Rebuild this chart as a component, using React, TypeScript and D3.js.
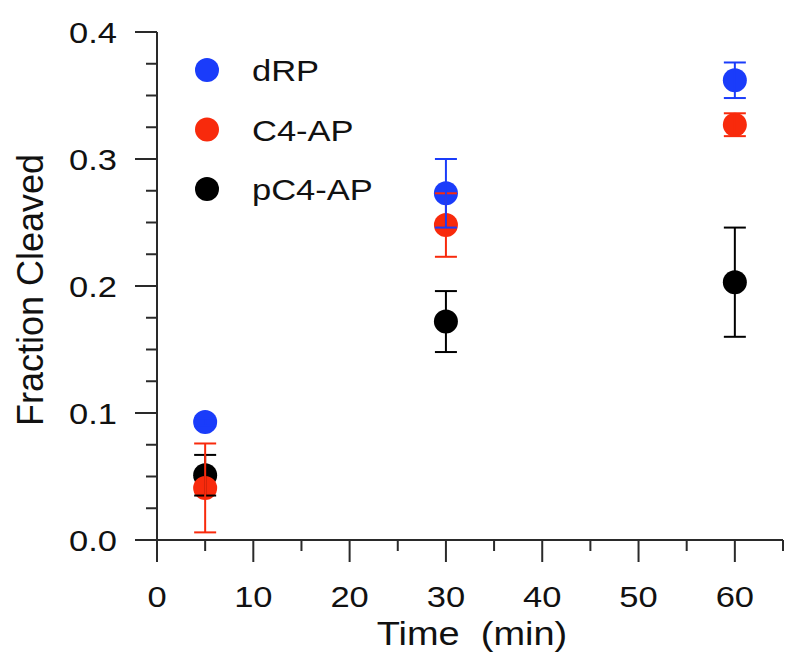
import React from 'react';
import * as d3 from 'd3';

// values
const times = [5, 30, 60];
const seriesNames = ['dRP', 'C4-AP', 'pC4-AP'];
const seriesColors = ['#1a3cfa', '#f82a0c', '#000000'];
const dRP = [0.093, 0.273, 0.362];
const dRPErr = [0.003, 0.027, 0.014];
const c4AP = [0.041, 0.248, 0.327];
const c4APErr = [0.035, 0.025, 0.009];
const pC4AP = [0.051, 0.172, 0.203];
const pC4APErr = [0.016, 0.024, 0.043];

const xMajor = [0, 10, 20, 30, 40, 50, 60];
const xMinor = [5, 15, 25, 35, 45, 55, 65];
const yMajor = [0, 0.1, 0.2, 0.3, 0.4];
const yMinor = [0.025, 0.05, 0.075, 0.125, 0.15, 0.175, 0.225, 0.25, 0.275, 0.325, 0.35, 0.375];

const W = 800;
const H = 668;
const font = '"Liberation Sans", Arial, sans-serif';
const axisColor = '#2a2a2a';
const stretch = 1.15;

const x = d3.scaleLinear().domain([0, 65]).range([157, 783]);
const y = d3.scaleLinear().domain([0, 0.4]).range([540, 32]);

const series = [
  { name: seriesNames[0], color: seriesColors[0], values: dRP, errs: dRPErr },
  { name: seriesNames[1], color: seriesColors[1], values: c4AP, errs: c4APErr },
  { name: seriesNames[2], color: seriesColors[2], values: pC4AP, errs: pC4APErr },
];

const Txt: React.FC<{ x: number; y: number; size: number; anchor?: string; children: React.ReactNode }> = ({ x, y, size, anchor = 'start', children }) => (
  <text
    transform={`translate(${x},${y}) scale(${stretch},1)`}
    fontSize={size}
    fontFamily={font}
    textAnchor={anchor}
    fill="#111"
  >
    {children}
  </text>
);

export default function App() {
  const r = 12;
  const cap = 11;
  return (
    <svg width={W} height={H} style={{ position: 'absolute', left: 0, top: 0, background: '#fff' }}>
      {/* axes */}
      <g stroke={axisColor} strokeWidth={2} fill="none">
        <line x1={x(0)} x2={x(0)} y1={y(0.4)} y2={y(0) + 22} />
        <line x1={x(0) - 22} x2={x(65)} y1={y(0)} y2={y(0)} />
        {yMajor.map(v => (
          <line key={'ym' + v} x1={x(0) - 22} x2={x(0)} y1={y(v)} y2={y(v)} />
        ))}
        {yMinor.map(v => (
          <line key={'yn' + v} x1={x(0) - 11} x2={x(0)} y1={y(v)} y2={y(v)} />
        ))}
        {xMajor.map(v => (
          <line key={'xm' + v} x1={x(v)} x2={x(v)} y1={y(0)} y2={y(0) + 22} />
        ))}
        {xMinor.map(v => (
          <line key={'xn' + v} x1={x(v)} x2={x(v)} y1={y(0)} y2={y(0) + 11} />
        ))}
      </g>
      {yMajor.map(v => (
        <Txt key={'yl' + v} x={117} y={y(v) + 11} size={30} anchor="end">
          {d3.format('.1f')(v)}
        </Txt>
      ))}
      {xMajor.map(v => (
        <Txt key={'xl' + v} x={x(v)} y={607} size={30} anchor="middle">
          {v}
        </Txt>
      ))}
      <Txt x={472} y={645} size={33} anchor="middle">
        {'Time\u00a0\u00a0(min)'}
      </Txt>
      <text
        transform={`translate(43,290) rotate(-90)`}
        fontSize={36}
        fontFamily={font}
        textAnchor="middle"
        fill="#111"
      >
        Fraction Cleaved
      </text>

      {/* markers, drawn back to front */}
      {[...series].reverse().map(s => (
        <g key={'c' + s.name} fill={s.color}>
          {times.map((t, i) => (
            <circle key={t} cx={x(t)} cy={y(s.values[i])} r={r} />
          ))}
        </g>
      ))}
      {/* error bars on top */}
      {[...series].reverse().map(s => (
        <g key={'e' + s.name} stroke={s.color} strokeWidth={2}>
          {times.map((t, i) => {
            const cx = x(t);
            const hi = y(s.values[i] + s.errs[i]);
            const lo = y(s.values[i] - s.errs[i]);
            return (
              <g key={t}>
                <line x1={cx} x2={cx} y1={hi} y2={lo} />
                <line x1={cx - cap} x2={cx + cap} y1={hi} y2={hi} />
                <line x1={cx - cap} x2={cx + cap} y1={lo} y2={lo} />
              </g>
            );
          })}
        </g>
      ))}

      {/* legend */}
      {series.map((s, i) => (
        <g key={'lg' + s.name}>
          <circle cx={207} cy={70 + i * 59.5} r={r} fill={s.color} />
          <Txt x={252} y={81 + i * 59.5} size={30}>
            {s.name}
          </Txt>
        </g>
      ))}
    </svg>
  );
}
